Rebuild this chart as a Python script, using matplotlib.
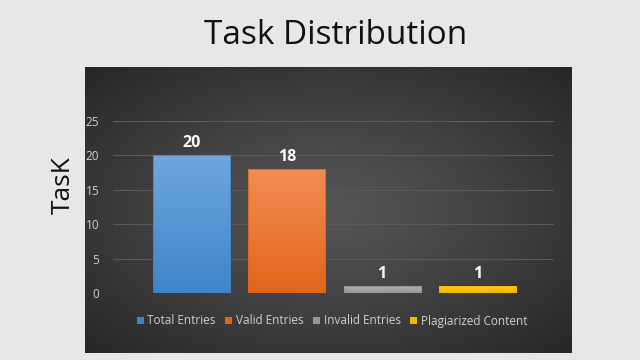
import matplotlib.pyplot as plt
import matplotlib.colors as mcolors
from matplotlib.patches import Patch
import numpy as np

# data
categories = ['Total Entries', 'Valid Entries', 'Invalid Entries', 'Plagiarized Content']
values = [20, 18, 1, 1]
yticks = [0, 5, 10, 15, 20, 25]
# gradient colours per bar (top, bottom)
bar_top = ['#70a6dc', '#f28c55', '#b0b0b0', '#ffcc1a']
bar_bot = ['#3e85c8', '#e2651a', '#979797', '#f2b800']

W, H = 640, 360
fig = plt.figure(figsize=(6.4, 3.6), dpi=100)
fig.patch.set_facecolor('#e7e7e7')

# dark panel with radial gradient
px0, px1, py0, py1 = 85, 572, 67, 353
bg = fig.add_axes([px0 / W, 1 - py1 / H, (px1 - px0) / W, (py1 - py0) / H])
yy, xx = np.mgrid[-1:1:200j, -1:1:300j]
r = np.sqrt(xx ** 2 + yy ** 2) / np.sqrt(2)
c0 = np.array(mcolors.to_rgb('#555555'))
c1 = np.array(mcolors.to_rgb('#262626'))
img = c0 + (c1 - c0) * np.clip(r, 0, 1)[..., None] ** 1.2
bg.imshow(img, aspect='auto', extent=[0, 1, 0, 1])
bg.set_axis_off()

# main plot
ax0, ax1, ay0, ay1 = 113, 554, 121, 293
ax = fig.add_axes([ax0 / W, 1 - ay1 / H, (ax1 - ax0) / W, (ay1 - ay0) / H])
ax.set_facecolor('none')
x = np.arange(len(values))
bw = 0.81
bars = ax.bar(x, values, width=bw, color='none', zorder=3)
grad = np.linspace(0, 1, 100)[:, None]
for b, ct, cb in zip(bars, bar_top, bar_bot):
    cmap = mcolors.LinearSegmentedColormap.from_list('g', [cb, ct])
    im = ax.imshow(grad, cmap=cmap, aspect='auto', origin='lower', zorder=3,
                   extent=[b.get_x(), b.get_x() + b.get_width(), 0, b.get_height()])
    im.set_clip_path(b)
    ax.add_patch(plt.Rectangle((b.get_x(), 0), b.get_width(), b.get_height(),
                               fill=False, ec=cb, lw=0.6, zorder=4))
    ax.text(b.get_x() + b.get_width() / 2, b.get_height() + 0.6, str(int(b.get_height())),
            ha='center', va='bottom', color='white', fontsize=11.5, fontweight='bold',
            family='Open Sans')

ax.set_xlim(-0.823, 3.803)
ax.set_ylim(0, 25)
ax.set_yticks(yticks)
ax.set_xticks([])
ax.grid(axis='y', color='#5a5a5a', lw=0.8, zorder=0)
ax.tick_params(axis='y', length=0, pad=10, colors='#d0d0d0', labelsize=8.5)
for lab in ax.get_yticklabels():
    lab.set_family('Open Sans')
for s in ax.spines.values():
    s.set_visible(False)

# titles
fig.text(336 / W, 1 - 36 / H, 'Task Distribution', ha='center', va='center',
         fontsize=24, color='#111111', family='Open Sans')
fig.text(63 / W, 1 - 185 / H, 'TasK', rotation=90, ha='center', va='center',
         fontsize=19, color='#111111', family='Open Sans')

handles = [Patch(facecolor=c, edgecolor='none') for c in bar_bot]
fig.legend(handles, categories, loc='center', bbox_to_anchor=(332 / W, 1 - 321 / H),
           ncol=4, frameon=False, handlelength=0.6, handleheight=0.6,
           handletextpad=0.3, columnspacing=0.8,
           prop={'family': 'Open Sans', 'size': 8.5}, labelcolor='#d0d0d0')

fig.savefig('out.png', dpi=100, facecolor=fig.get_facecolor())
